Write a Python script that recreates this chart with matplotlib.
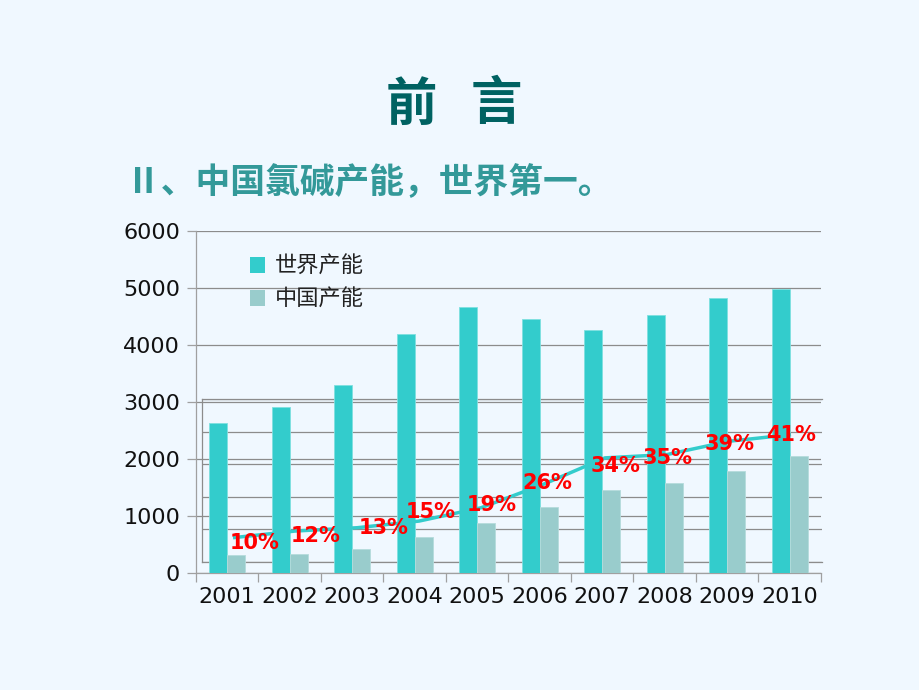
import matplotlib
matplotlib.use('Agg')
import matplotlib.pyplot as plt
import numpy as np
from matplotlib.patches import Patch

# data
years = ['2001', '2002', '2003', '2004', '2005', '2006', '2007', '2008', '2009', '2010']
world = [2630, 2910, 3300, 4200, 4670, 4450, 4260, 4520, 4820, 4990]
china = [310, 340, 420, 630, 880, 1160, 1450, 1580, 1790, 2050]
share = [10, 12, 13, 15, 19, 26, 34, 35, 39, 41]
share_labels = [str(s) + '%' for s in share]
legend_names = ['世界产能', '中国产能']

# hand placed label nudges (pixels, x right / y up), like the original slide
label_dx = [22, 21, 27, 12, 11, 4, 10, 1, 1, 0]
label_dy = [-5, -5, 0, 9, 3, 1, -8, -3, -3, 0]

bg = '#F0F8FF'
c_world = '#33CCCC'
c_china = '#99CCCC'
c_grid = '#8C8C8C'
c_axis = '#A0A0A0'
W, H = 920, 690

plt.rcParams['font.family'] = ['DejaVu Sans']
fig = plt.figure(figsize=(W / 100, H / 100), dpi=100, facecolor=bg)


def rect(l, r, t, b):
    return [l / W, 1 - b / H, (r - l) / W, (b - t) / H]


# inner box of the share series (sits behind the bars)
ax_in = fig.add_axes(rect(202, 822, 399, 562), zorder=0)
ax_in.set_facecolor('none')
ax_in.set_xlim(-0.5, 9.5)
ax_in.set_ylim(0, 5)
ax_in.set_yticks(range(6))
ax_in.set_xticks([])
ax_in.yaxis.grid(True, color=c_grid, linewidth=0.9)
ax_in.tick_params(axis='y', length=0, labelleft=False)
for s in ['left', 'top', 'bottom']:
    ax_in.spines[s].set_color(c_grid)
    ax_in.spines[s].set_linewidth(0.9)
ax_in.spines['right'].set_visible(False)

# main bar chart
ax = fig.add_axes(rect(196, 821, 231, 573), zorder=1)
ax.set_facecolor('none')
x = np.arange(len(years))
w = 0.288
ax.bar(x - w / 2, world, w, color=c_world, edgecolor='#7FE0E0', linewidth=0.6, zorder=3)
ax.bar(x + w / 2, china, w, color=c_china, edgecolor='#B5DCDC', linewidth=0.6, zorder=3)
ax.set_xlim(-0.5, 9.5)
ax.set_ylim(0, 6000)
ax.set_yticks(range(0, 6001, 1000))
ax.yaxis.grid(True, color=c_grid, linewidth=0.9, zorder=0)
ax.set_axisbelow(True)
ax.set_xticks(np.arange(-0.5, 10, 1))
ax.set_xticklabels([])
ax.set_xticks(x, minor=True)
ax.set_xticklabels(years, minor=True)
ax.tick_params(axis='x', which='major', length=6.5, color=c_axis, width=0.9)
ax.tick_params(axis='x', which='minor', length=0, labelsize=16, pad=10, labelcolor='#111111')
ax.tick_params(axis='y', length=6.5, color=c_axis, width=0.9, labelsize=16, pad=5, labelcolor='#111111')
for s in ['top', 'right']:
    ax.spines[s].set_visible(False)
for s in ['left', 'bottom']:
    ax.spines[s].set_color(c_axis)
    ax.spines[s].set_linewidth(0.9)

handles = [Patch(facecolor=c_world, edgecolor='none'), Patch(facecolor=c_china, edgecolor='none')]
ax.legend(handles, legend_names, loc='upper left', bbox_to_anchor=(0.086, 0.93),
          frameon=False, prop={'family': ['Noto Sans CJK SC'], 'size': 16, 'weight': 'light'},
          labelcolor='#222222', handlelength=0.7, handleheight=0.7,
          handletextpad=0.45, labelspacing=0.45, borderpad=0, borderaxespad=0)

# share line and its labels, on top of the bars
ax_ln = fig.add_axes(rect(202, 822, 399, 562), zorder=2)
ax_ln.set_xlim(-0.5, 9.5)
ax_ln.set_ylim(2.7, 51.7)
ax_ln.axis('off')
ax_ln.plot(x, share, color=c_world, linewidth=2.5, solid_capstyle='butt')
for i in range(len(share)):
    ax_ln.annotate(share_labels[i], (x[i], share[i]),
                   xytext=(label_dx[i] * 0.72, label_dy[i] * 0.72), textcoords='offset points',
                   ha='center', va='center', color='#FF0000', fontsize=15, fontweight='bold')

# slide title, two characters set apart
cjk = ['Noto Sans CJK SC', 'DejaVu Sans']
fig.text(411 / W, 1 - 104 / H, '前', ha='center', va='center', fontsize=37,
         color='#006262', fontweight='bold', family=cjk)
fig.text(496 / W, 1 - 104 / H, '言', ha='center', va='center', fontsize=37,
         color='#006262', fontweight='bold', family=cjk)
fig.text(126 / W, 1 - 183 / H, 'Ⅱ、中国氯碱产能，世界第一。', ha='left', va='center',
         fontsize=25, color='#339999', fontweight='bold', family=cjk)

fig.savefig('out.png', dpi=100, facecolor=bg)
